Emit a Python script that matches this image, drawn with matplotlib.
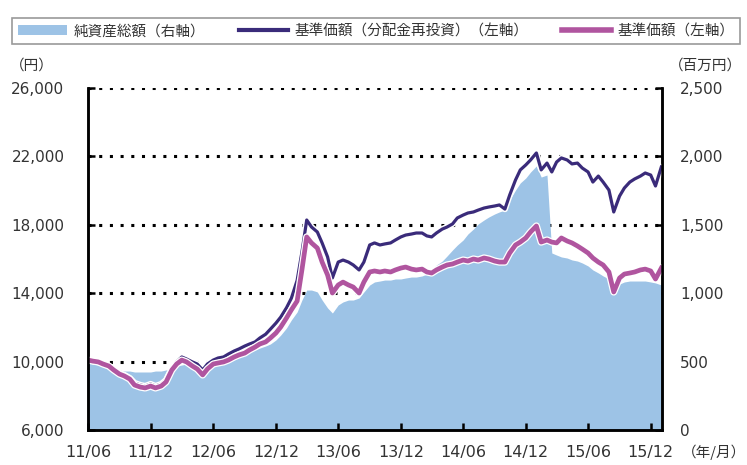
import pandas as pd
import matplotlib
matplotlib.use("Agg")
import matplotlib.pyplot as plt
import matplotlib.dates as mdates
import matplotlib.patheffects as pe
from matplotlib.patches import Patch
from matplotlib.lines import Line2D
from matplotlib.ticker import FuncFormatter

plt.rcParams['font.family'] = ['DejaVu Sans', 'Noto Sans CJK JP']

# semi-monthly points, 2011/06 - 2016/01
dates = pd.date_range("2011-06-01", periods=111, freq="SMS")

# 基準価額 (円)
nav = [10090, 10030, 9980, 9860, 9740, 9510, 9270, 9160, 8980, 8630, 8510, 8460,
       8570, 8460, 8570, 8810, 9510, 9860, 10090, 9980, 9740, 9570, 9220, 9570,
       9860, 9920, 9980, 10090, 10270, 10390, 10500, 10680, 10850, 11030, 11150, 11380,
       11670, 12020, 12550, 13020, 13540, 15360, 17290, 16940, 16640, 15820, 15060, 14010,
       14480, 14650, 14480, 14360, 14010, 14650, 15240, 15300, 15240, 15300, 15240, 15360,
       15470, 15530, 15410, 15360, 15410, 15240, 15180, 15360, 15530, 15650, 15710, 15820,
       15940, 15880, 16000, 15940, 16060, 16000, 15880, 15820, 15820, 16350, 16820, 16990,
       17230, 17580, 17930, 16990, 17110, 16990, 16940, 17230, 17050, 16940, 16760, 16580,
       16350, 16060, 15820, 15650, 15240, 14070, 14890, 15120, 15180, 15240, 15360, 15410,
       15300, 14830, 15470]

# 基準価額(分配金再投資) (円)
nav_reinvest = [10090, 10030, 9980, 9860, 9740, 9570, 9330, 9220, 9040, 8750, 8630, 8570,
                8690, 8570, 8690, 8920, 9620, 9980, 10270, 10150, 9980, 9860, 9510, 9860,
                10090, 10210, 10270, 10440, 10620, 10740, 10910, 11030, 11150, 11380, 11600, 11900,
                12250, 12600, 13150, 13700, 14750, 16400, 18280, 17870, 17580, 16940, 16120, 14890,
                15820, 15940, 15820, 15650, 15360, 15820, 16820, 16940, 16820, 16880, 16940, 17110,
                17290, 17400, 17460, 17520, 17520, 17350, 17290, 17520, 17750, 17870, 18050, 18400,
                18570, 18690, 18750, 18860, 18980, 19040, 19100, 19160, 18920, 19740, 20620, 21210,
                21500, 21790, 22200, 21210, 21610, 21090, 21670, 21910, 21790, 21560, 21610, 21320,
                21090, 20500, 20850, 20500, 20030, 18750, 19680, 20150, 20500, 20680, 20850, 21030,
                20910, 20270, 21380]

# 純資産総額 (百万円)
net_assets = [497, 482, 475, 468, 461, 446, 439, 431, 431, 424, 424, 424,
              424, 431, 431, 439, 453, 468, 475, 482, 475, 468, 453, 468,
              482, 490, 497, 512, 526, 541, 556, 570, 585, 599, 614, 629,
              658, 694, 746, 804, 863, 950, 1023, 1023, 1009, 950, 892, 855,
              914, 936, 950, 950, 965, 1009, 1060, 1082, 1089, 1096, 1096, 1104,
              1104, 1111, 1118, 1118, 1126, 1140, 1170, 1206, 1235, 1272, 1316, 1352,
              1389, 1433, 1469, 1506, 1535, 1557, 1579, 1594, 1608, 1681, 1754, 1806,
              1842, 1886, 1930, 1849, 1864, 1294, 1279, 1265, 1257, 1243, 1235, 1221,
              1199, 1170, 1148, 1126, 1104, 1067, 1067, 1082, 1089, 1089, 1089, 1089,
              1082, 1075, 1060]

labels = ["純資産総額（右軸）", "基準価額（分配金再投資）（左軸）", "基準価額（左軸）"]
tick_dates = pd.date_range("2011-06-01", "2015-12-01", freq="6MS")
left_ticks = [6000, 10000, 14000, 18000, 22000, 26000]
right_ticks = [0, 500, 1000, 1500, 2000, 2500]

BLUE = "#9DC3E6"
NAVY = "#3A2B7A"
MAGENTA = "#B0559F"
JP = 'Noto Sans CJK JP'

fig = plt.figure(figsize=(7.47, 4.65), dpi=100)
ax = fig.add_axes([88/747, 35/465, 574/747, 342/465])
ax2 = ax.twinx()
ax.set_zorder(ax2.get_zorder() + 1)
ax.patch.set_visible(False)

# area on right axis, grid behind it
ax2.fill_between(dates, net_assets, 0, color=BLUE, lw=0, zorder=2)
ax2.set_ylim(0, 2500)
ax2.set_yticks(right_ticks)
ax2.yaxis.set_major_formatter(FuncFormatter(lambda v, p: f"{int(v):,}"))
ax2.set_axisbelow(True)
ax2.grid(axis='y', color='black', linestyle=(0, (1, 2.5)), linewidth=2.2)

# lines on left axis
ax.plot(dates, nav_reinvest, color=NAVY, lw=2.3,
        path_effects=[pe.Stroke(linewidth=4.5, foreground='white'), pe.Normal()])
ax.plot(dates, nav, color=MAGENTA, lw=3.4,
        path_effects=[pe.Stroke(linewidth=5.2, foreground='white'), pe.Normal()])
ax.set_ylim(6000, 26000)
ax.set_yticks(left_ticks)
ax.yaxis.set_major_formatter(FuncFormatter(lambda v, p: f"{int(v):,}"))

ax.set_xlim(dates[0], pd.Timestamp("2016-01-03"))
ax.set_xticks(tick_dates)
ax.xaxis.set_major_formatter(mdates.DateFormatter("%y/%m"))

for a in (ax, ax2):
    a.spines['top'].set_visible(False)
    for s in ('left', 'right', 'bottom'):
        a.spines[s].set_linewidth(1.8)
ax.tick_params(axis='y', direction='in', length=5, width=1.8, pad=17, labelsize=11, colors='#333333')
ax.tick_params(axis='x', direction='in', length=5, width=1.8, pad=11, labelsize=11.5, colors='#333333')
ax2.tick_params(axis='y', direction='in', length=5, width=1.8, pad=13, labelsize=11, colors='#333333')
for a in (ax, ax2):
    a.tick_params(color='black')

fig.text(10/747, 1 - 66/465, "（円）", ha='left', va='center', fontsize=10.5, family=JP, color='#333333')
fig.text(742/747, 1 - 66/465, "（百万円）", ha='right', va='center', fontsize=10.5, family=JP, color='#333333')
fig.text(746/747, 1 - 452/465, "（年/月）", ha='right', va='center', fontsize=10.5, family=JP, color='#333333')

handles = [Patch(facecolor=BLUE, edgecolor='none'),
           Line2D([], [], color=NAVY, lw=3),
           Line2D([], [], color=MAGENTA, lw=4)]
leg = fig.legend(handles, labels, loc='lower left',
                 bbox_to_anchor=(12/747, 1 - 44/465, 728/747, 36/465),
                 mode='expand', ncol=3, frameon=True, fancybox=False,
                 edgecolor='#808080', handlelength=3.4, handletextpad=0.4,
                 borderaxespad=0, prop={'family': JP, 'size': 10.5})
leg.get_frame().set_linewidth(1.2)
for t in leg.get_texts():
    t.set_color('#333333')

fig.savefig("out.png", dpi=100)
